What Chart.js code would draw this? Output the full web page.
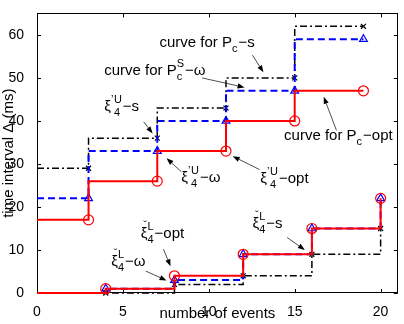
<!DOCTYPE html>
<html>
<head>
<meta charset="utf-8">
<script src="https://cdn.jsdelivr.net/npm/chart.js@4.4.1/dist/chart.umd.min.js"></script>
<style>
  html, body { margin: 0; padding: 0; background: #fff; }
</style>
</head>
<body>
<canvas id="chart" width="404" height="324"></canvas>
<script>
// number of events where each curve steps
const upperEvents = [0, 3, 7, 11, 15, 19];
const lowerEvents = [0, 4, 8, 12, 16, 20];

// time interval (ms), upper bound curves
const upperOpt = [17, 17, 26, 33, 40, 47];
const upperOmega = [22, 22, 33, 40, 47, 59];
const upperS = [29, 29, 36, 43, 50, 62];

// time interval (ms), lower bound curves
const lowerOpt = [0, 1, 4, 9, 15, 22];
const lowerOmega = [0, 1, 3, 9, 15, 22];
const lowerS = [0, 0, 2, 4, 9, 15];

const xTicks = [0, 5, 10, 15, 20];
const yTicks = [0, 10, 20, 30, 40, 50, 60];

const xTitle = 'number of events';
const yTitle = 'time interval \u0394 (ms)';

const FONT = '"Liberation Sans", Arial, Helvetica, sans-serif';
const RED = '#ff0000', BLUE = '#0000ff', BLACK = '#000000';

// first point only starts the line, no marker on it
function stepSet(label, xs, ys, color, dash, width, style, radius, stepped) {
  return {
    label: label,
    data: xs.map((x, i) => ({ x: x, y: ys[i] })),
    showLine: true,
    stepped: stepped,
    borderColor: color,
    borderWidth: width,
    borderDash: dash,
    pointStyle: style,
    pointRadius: xs.map((x, i) => (i === 0 ? 0 : radius)),
    pointBorderColor: color,
    pointBackgroundColor: 'rgba(0,0,0,0)',
    pointBorderWidth: 1.2,
    fill: false,
    clip: 10
  };
}

// annotation texts, anchored in data units (baseline-left), with arrows
const notes = [
  { at: [7.13, 57.3], parts: [{ t: 'curve for P' }, { sub: 'c' }, { t: '\u2212s' }], from: [12.54, 55.3], to: [13.18, 51.3] },
  { at: [3.91, 50.7], parts: [{ t: 'curve for P' }, { sup: 'S', sub: 'c' }, { t: '\u2212\u03c9' }], from: [9.61, 50.0], to: [12.08, 47.8] },
  { at: [14.38, 35.6], parts: [{ t: 'curve for P' }, { sub: 'c' }, { t: '\u2212opt' }], from: [17.43, 37.8], to: [16.69, 45.6] },
  { at: [3.91, 42.4], parts: [{ t: '\u03be' }, { prime: true }, { sup: 'U', sub: '4' }, { t: '\u2212s' }], from: [6.21, 39.8], to: [6.73, 37.1] },
  { at: [8.40, 25.8], parts: [{ t: '\u03be' }, { prime: true }, { sup: 'U', sub: '4' }, { t: '\u2212\u03c9' }], from: [8.40, 28.2], to: [7.54, 31.3] },
  { at: [13.0, 25.6], parts: [{ t: '\u03be' }, { prime: true }, { sup: 'U', sub: '4' }, { t: '\u2212opt' }], from: [12.95, 28.7], to: [11.39, 31.8] },
  { at: [6.04, 12.9], parts: [{ t: '\u03be', accent: true }, { sup: 'L', sub: '4' }, { t: '\u2212opt' }], from: [7.36, 10.2], to: [7.77, 6.2] },
  { at: [4.32, 6.2], parts: [{ t: '\u03be', accent: true }, { sup: 'L', sub: '4' }, { t: '\u2212\u03c9' }], from: [6.33, 5.1], to: [7.54, 2.9] },
  { at: [12.54, 15.1], parts: [{ t: '\u03be', accent: true }, { sup: 'L', sub: '4' }, { t: '\u2212s' }], from: [14.56, 12.9], to: [15.59, 10.0] }
];

function drawRich(ctx, x, y, parts) {
  ctx.textBaseline = 'alphabetic';
  ctx.textAlign = 'left';
  parts.forEach(p => {
    if (p.t !== undefined) {
      ctx.font = '15px ' + FONT;
      ctx.fillText(p.t, x, y);
      const w = ctx.measureText(p.t).width;
      if (p.accent) {
        ctx.font = '11px ' + FONT;
        ctx.textAlign = 'center';
        ctx.fillText('\u02c7', x + w / 2 + 1, y - 9);
        ctx.textAlign = 'left';
      }
      x += w;
    } else if (p.prime) {
      ctx.font = '11px ' + FONT;
      ctx.fillText('\u2019', x, y - 8);
      x += 3;
    } else {
      ctx.font = '11px ' + FONT;
      let w = 0;
      if (p.sup) { ctx.fillText(p.sup, x, y - 8); w = ctx.measureText(p.sup).width; }
      if (p.sub) { ctx.fillText(p.sub, x, y + 5); w = Math.max(w, ctx.measureText(p.sub).width); }
      x += w + 1;
    }
  });
}

function drawArrow(ctx, x1, y1, x2, y2) {
  const a = Math.atan2(y2 - y1, x2 - x1);
  const len = 7, half = 2.6;
  ctx.strokeStyle = '#222';
  ctx.lineWidth = 0.8;
  ctx.setLineDash([]);
  ctx.beginPath();
  ctx.moveTo(x1, y1);
  ctx.lineTo(x2 - len * Math.cos(a), y2 - len * Math.sin(a));
  ctx.stroke();
  ctx.fillStyle = '#000';
  ctx.beginPath();
  ctx.moveTo(x2, y2);
  ctx.lineTo(x2 - len * Math.cos(a) + half * Math.sin(a), y2 - len * Math.sin(a) - half * Math.cos(a));
  ctx.lineTo(x2 - len * Math.cos(a) - half * Math.sin(a), y2 - len * Math.sin(a) + half * Math.cos(a));
  ctx.closePath();
  ctx.fill();
}

// matlab style box with inward ticks on all four sides
const framePlugin = {
  id: 'frame',
  beforeDatasetsDraw(chart) {
    const { ctx, chartArea: a, scales } = chart;
    ctx.save();
    ctx.strokeStyle = '#000';
    ctx.lineWidth = 1;
    ctx.strokeRect(Math.round(a.left) + 0.5, Math.round(a.top) + 0.5,
      Math.round(a.right - a.left) - 1, Math.round(a.bottom - a.top) - 1);
    ctx.beginPath();
    scales.x.ticks.forEach(t => {
      const px = Math.round(scales.x.getPixelForValue(t.value)) + 0.5;
      ctx.moveTo(px, a.bottom); ctx.lineTo(px, a.bottom - 4);
      ctx.moveTo(px, a.top); ctx.lineTo(px, a.top + 4);
    });
    scales.y.ticks.forEach(t => {
      const py = Math.round(scales.y.getPixelForValue(t.value)) + 0.5;
      ctx.moveTo(a.left, py); ctx.lineTo(a.left + 4, py);
      ctx.moveTo(a.right, py); ctx.lineTo(a.right - 4, py);
    });
    ctx.stroke();

    // axis titles
    ctx.fillStyle = '#000';
    ctx.font = '15px ' + FONT;
    ctx.textAlign = 'center';
    ctx.textBaseline = 'middle';
    ctx.fillText(xTitle, (a.left + a.right) / 2, a.bottom + 21);
    ctx.translate(9, (a.top + a.bottom) / 2);
    ctx.rotate(-Math.PI / 2);
    ctx.fillText(yTitle, 0, 0);
    ctx.restore();
  },
  afterDraw(chart) {
    const { ctx, scales } = chart;
    ctx.save();
    ctx.fillStyle = '#000';
    notes.forEach(n => {
      drawArrow(ctx,
        scales.x.getPixelForValue(n.from[0]), scales.y.getPixelForValue(n.from[1]),
        scales.x.getPixelForValue(n.to[0]), scales.y.getPixelForValue(n.to[1]));
      ctx.fillStyle = '#000';
      drawRich(ctx, scales.x.getPixelForValue(n.at[0]), scales.y.getPixelForValue(n.at[1]), n.parts);
    });
    ctx.restore();
  }
};

new Chart(document.getElementById('chart'), {
  type: 'scatter',
  data: {
    datasets: [
      stepSet('P_c-opt upper', upperEvents, upperOpt, RED, [], 2, 'circle', 5, 'after'),
      stepSet('P_c-opt lower', lowerEvents, lowerOpt, RED, [], 2, 'circle', 5, 'before'),
      stepSet('P_c^S-omega upper', upperEvents, upperOmega, BLUE, [7, 4], 2, 'triangle', 4.5, 'after'),
      stepSet('P_c^S-omega lower', lowerEvents, lowerOmega, BLUE, [7, 4], 2, 'triangle', 4.5, 'before'),
      stepSet('P_c-s upper', upperEvents, upperS, BLACK, [7, 3, 2, 3], 1.5, 'crossRot', 3.5, 'after'),
      stepSet('P_c-s lower', lowerEvents, lowerS, BLACK, [7, 3, 2, 3], 1.5, 'crossRot', 3.5, 'before')
    ]
  },
  options: {
    responsive: false,
    animation: false,
    devicePixelRatio: 1,
    layout: { padding: { top: 1, right: 2, left: 0, bottom: 0 } },
    plugins: { legend: { display: false }, tooltip: { enabled: false } },
    scales: {
      x: {
        type: 'linear',
        min: 0,
        max: 21,
        afterBuildTicks: s => { s.ticks = xTicks.map(v => ({ value: v })); },
        afterFit: s => { s.height = 31; },
        grid: { display: false },
        border: { display: false },
        ticks: { color: '#000', padding: 3, maxRotation: 0, font: { family: FONT, size: 14 } }
      },
      y: {
        type: 'linear',
        min: 0,
        max: 65,
        afterBuildTicks: s => { s.ticks = yTicks.map(v => ({ value: v })); },
        afterFit: s => { s.width = 37; },
        grid: { display: false },
        border: { display: false },
        ticks: { color: '#000', padding: 5, font: { family: FONT, size: 14 } }
      }
    }
  },
  plugins: [framePlugin]
});
</script>
</body>
</html>
